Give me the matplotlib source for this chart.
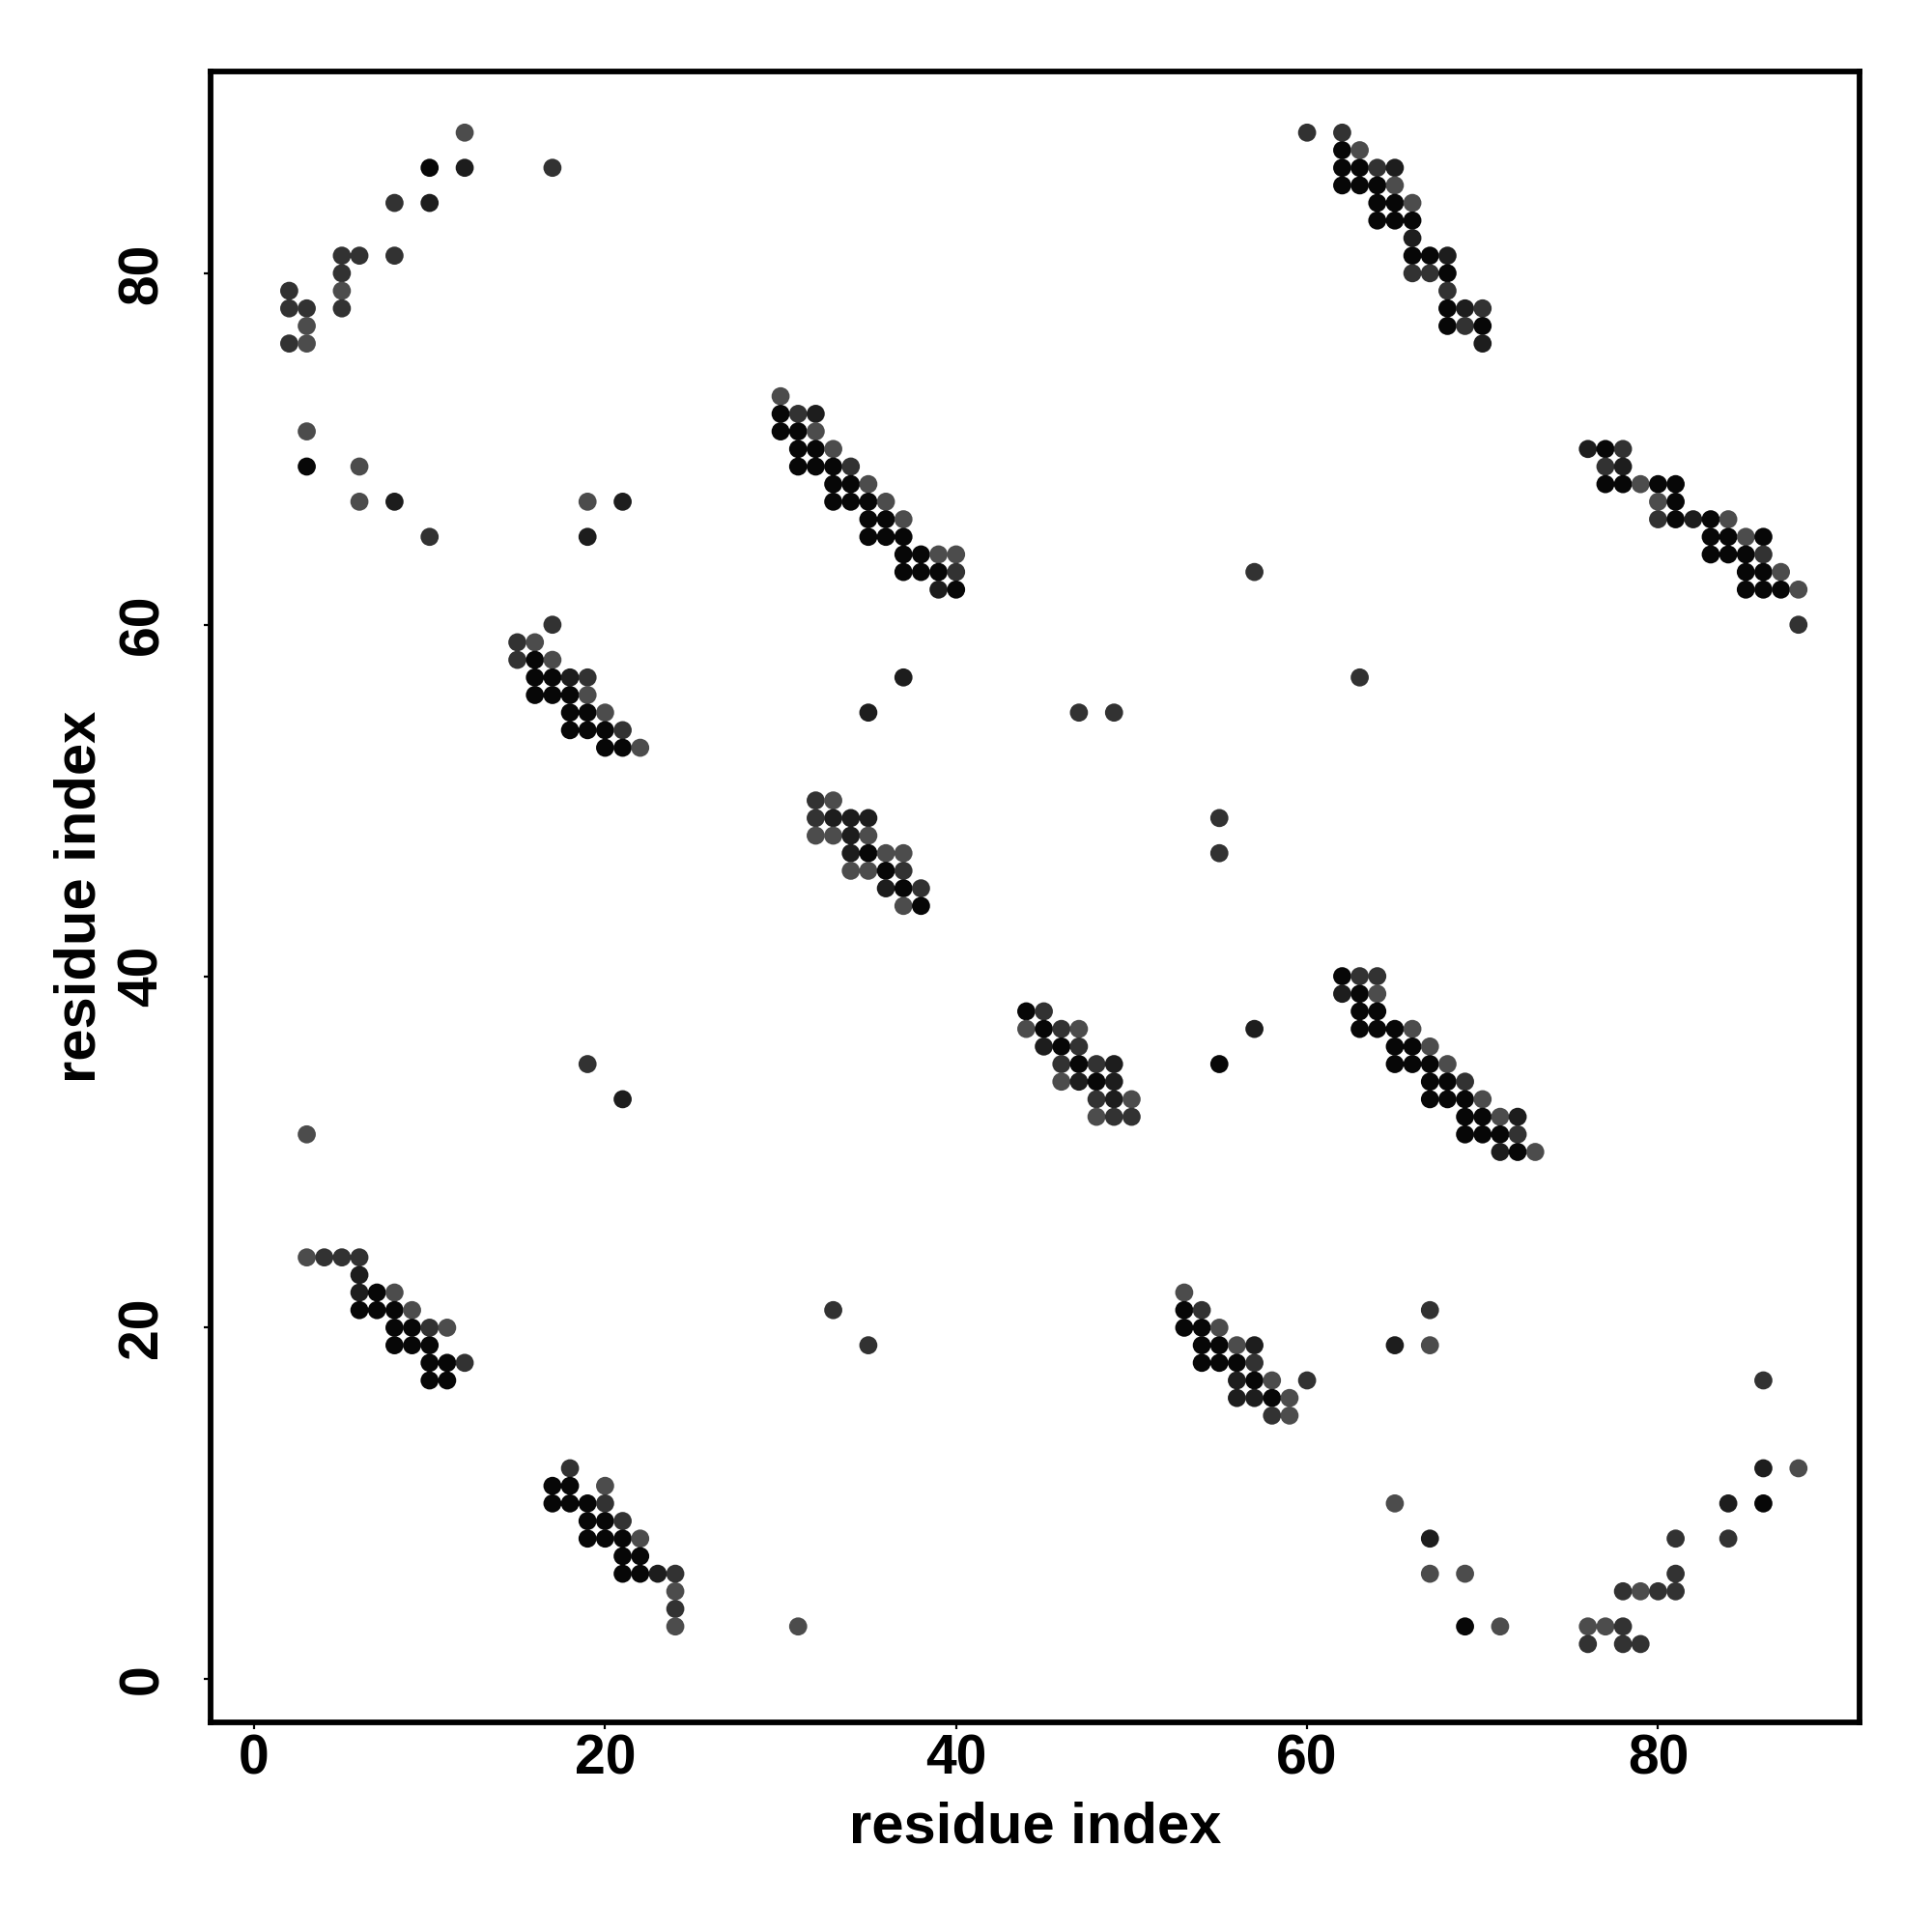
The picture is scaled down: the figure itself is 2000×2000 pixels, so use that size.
import matplotlib
matplotlib.use("Agg")
import matplotlib.pyplot as plt

# ---- data: predicted residue contacts (i, j) and shade level (1=darkest .. 4=lightest)
# upper-left region
a_i = [12, 10, 12, 17, 8, 10, 5, 6, 8, 5, 5, 5, 2, 2, 3, 3, 2, 3,
       3, 3, 6, 6, 8, 10, 19, 21, 19, 17, 15, 16, 15, 16, 17]
a_j = [88, 86, 86, 86, 84, 84, 81, 81, 81, 80, 79, 78, 79, 78, 78, 77, 76, 76,
       71, 69, 69, 67, 67, 65, 67, 67, 65, 60, 59, 59, 58, 58, 58]
a_s = [4, 1, 2, 3, 3, 2, 3, 3, 3, 3, 4, 3, 3, 3, 3, 4, 3, 4,
       4, 1, 4, 4, 2, 3, 4, 2, 2, 3, 3, 4, 3, 1, 4]

b_i = [16, 17, 18, 19, 16, 17, 18, 19, 18, 19, 20, 18, 19, 20, 21, 20, 21, 22, 19, 21, 3]
b_j = [57, 57, 57, 57, 56, 56, 56, 56, 55, 55, 55, 54, 54, 54, 54, 53, 53, 53, 35, 33, 31]
b_s = [1, 1, 2, 3, 1, 1, 1, 4, 1, 1, 4, 1, 1, 1, 3, 1, 1, 4, 3, 2, 4]

# lower-left region
c_i = [3, 4, 5, 6, 6, 6, 7, 8, 6, 7, 8, 9, 8, 9, 10, 11, 8, 9, 10, 10, 11, 12, 10, 11,
       18, 17, 18, 20, 17, 18, 19, 20, 19, 20, 21, 19, 20, 21, 22, 21, 22, 21, 22, 23, 24, 24, 24, 24]
c_j = [24, 24, 24, 24, 23, 22, 22, 22, 21, 21, 21, 21, 20, 20, 20, 20, 19, 19, 19, 18, 18, 18, 17, 17,
       12, 11, 11, 11, 10, 10, 10, 10, 9, 9, 9, 8, 8, 8, 8, 7, 7, 6, 6, 6, 6, 5, 4, 3]
c_s = [4, 3, 3, 3, 2, 2, 1, 4, 1, 1, 1, 4, 1, 1, 3, 4, 1, 1, 1, 1, 1, 3, 1, 1,
       3, 1, 1, 4, 1, 1, 1, 3, 1, 1, 3, 1, 1, 1, 4, 1, 1, 1, 1, 2, 3, 4, 3, 4]

# upper-middle region
d_i = [60, 30, 30, 31, 32, 30, 31, 32, 31, 32, 33, 31, 32, 33, 34, 33, 34, 35,
       33, 34, 35, 36, 35, 36, 37, 35, 36, 37, 37, 38, 39, 40, 37, 38, 39, 40, 57, 39, 40]
d_j = [88, 73, 72, 72, 72, 71, 71, 71, 70, 70, 70, 69, 69, 69, 69, 68, 68, 68,
       67, 67, 67, 67, 66, 66, 66, 65, 65, 65, 64, 64, 64, 64, 63, 63, 63, 63, 63, 62, 62]
d_s = [3, 4, 1, 3, 2, 1, 1, 4, 1, 1, 4, 1, 1, 1, 3, 1, 1, 4,
       1, 1, 1, 4, 1, 1, 4, 1, 1, 1, 1, 1, 4, 4, 1, 1, 1, 3, 3, 2, 1]

# upper-right region
e_i = [62, 62, 63, 62, 63, 64, 65, 62, 63, 64, 65, 64, 65, 66, 64, 65, 66, 66,
       66, 67, 68, 66, 67, 68, 68, 68, 69, 70, 68, 69, 70, 70]
e_j = [88, 87, 87, 86, 86, 86, 86, 85, 85, 85, 85, 84, 84, 84, 83, 83, 83, 82,
       81, 81, 81, 80, 80, 80, 79, 78, 78, 78, 77, 77, 77, 76]
e_s = [3, 1, 4, 1, 1, 3, 2, 1, 1, 1, 4, 1, 1, 4, 1, 1, 1, 2,
       1, 1, 2, 3, 3, 1, 3, 1, 2, 3, 1, 3, 1, 2]

f_i = [76, 77, 78, 77, 78, 77, 78, 79, 80, 81, 80, 81, 80, 81, 82, 83, 84,
       83, 84, 85, 86, 83, 84, 85, 86, 85, 86, 87, 85, 86, 87, 88, 88]
f_j = [70, 70, 70, 69, 69, 68, 68, 68, 68, 68, 67, 67, 66, 66, 66, 66, 66,
       65, 65, 65, 65, 64, 64, 64, 64, 63, 63, 63, 62, 62, 62, 62, 60]
f_s = [2, 1, 3, 3, 2, 1, 1, 4, 1, 1, 4, 1, 3, 1, 2, 1, 4,
       1, 1, 4, 1, 1, 1, 1, 3, 1, 1, 4, 1, 1, 1, 4, 3]

# centre region
g_i = [37, 35, 47, 49, 32, 33, 32, 33, 34, 35, 32, 33, 34, 35, 34, 35, 36, 37,
       34, 35, 36, 37, 36, 37, 38, 37, 38, 55, 55,
       44, 45, 44, 45, 46, 47, 45, 46, 47, 46, 47, 48, 49, 46, 47, 48, 49,
       48, 49, 50, 48, 49, 50, 57, 55]
g_j = [57, 55, 55, 55, 50, 50, 49, 49, 49, 49, 48, 48, 48, 48, 47, 47, 47, 47,
       46, 46, 46, 46, 45, 45, 45, 44, 44, 49, 47,
       38, 38, 37, 37, 37, 37, 36, 36, 36, 35, 35, 35, 35, 34, 34, 34, 34,
       33, 33, 33, 32, 32, 32, 37, 35]
g_s = [2, 2, 3, 3, 3, 4, 3, 2, 2, 2, 4, 4, 2, 4, 2, 1, 4, 4,
       4, 4, 1, 3, 2, 1, 3, 4, 1, 3, 3,
       1, 3, 4, 1, 3, 4, 2, 1, 3, 3, 1, 3, 2, 4, 2, 1, 2,
       3, 2, 4, 4, 3, 3, 2, 1]

# middle-right region
h_i = [63, 62, 63, 64, 62, 63, 64, 63, 64, 63, 64, 65, 66, 65, 66, 67, 65, 66, 67, 68,
       67, 68, 69, 67, 68, 69, 70, 69, 70, 71, 72, 69, 70, 71, 72, 71, 72, 73]
h_j = [57, 40, 40, 40, 39, 39, 39, 38, 38, 37, 37, 37, 37, 36, 36, 36, 35, 35, 35, 35,
       34, 34, 34, 33, 33, 33, 33, 32, 32, 32, 32, 31, 31, 31, 31, 30, 30, 30]
h_s = [3, 1, 3, 3, 2, 1, 4, 1, 1, 1, 1, 1, 4, 1, 1, 4, 1, 1, 1, 4,
       1, 1, 3, 1, 1, 1, 4, 1, 1, 4, 2, 1, 1, 1, 3, 2, 1, 4]

# lower-middle region
k_i = [33, 35, 31, 53, 53, 54, 53, 54, 55, 54, 55, 56, 57, 54, 55, 56, 57,
       56, 57, 58, 60, 56, 57, 58, 59, 58, 59]
k_j = [21, 19, 3, 22, 21, 21, 20, 20, 20, 19, 19, 19, 19, 18, 18, 18, 18,
       17, 17, 17, 17, 16, 16, 16, 16, 15, 15]
k_s = [3, 3, 4, 4, 1, 3, 1, 1, 4, 1, 1, 4, 2, 1, 1, 1, 3,
       2, 1, 4, 3, 2, 2, 1, 4, 3, 4]

# lower-right region
m_i = [67, 65, 67, 86, 86, 88, 65, 84, 86, 67, 81, 84, 67, 69, 81,
       78, 79, 80, 81, 69, 71, 76, 77, 78, 76, 78, 79]
m_j = [21, 19, 19, 17, 12, 12, 10, 10, 10, 8, 8, 8, 6, 6, 6,
       5, 5, 5, 5, 3, 3, 3, 3, 3, 2, 2, 2]
m_s = [3, 2, 4, 3, 2, 4, 4, 2, 1, 2, 3, 3, 4, 4, 3,
       3, 4, 3, 3, 1, 4, 4, 4, 3, 3, 3, 3]

grey_levels = {1: "#070707", 2: "#1d1d1d", 3: "#323232", 4: "#4c4c4c"}
axis_ticks = [0, 20, 40, 60, 80]
axis_label = "residue index"

xs = a_i + b_i + c_i + d_i + e_i + f_i + g_i + h_i + k_i + m_i
ys = a_j + b_j + c_j + d_j + e_j + f_j + g_j + h_j + k_j + m_j
ss = a_s + b_s + c_s + d_s + e_s + f_s + g_s + h_s + k_s + m_s
assert len(xs) == len(ys) == len(ss)
cols = [grey_levels[s] for s in ss]

plt.rcParams["font.family"] = ["Liberation Sans", "DejaVu Sans"]
plt.rcParams["font.weight"] = "bold"

fig = plt.figure(figsize=(20, 20), dpi=100)
ax = fig.add_axes([0.109, 0.1083, 0.8535, 0.8547])
ax.scatter(xs, ys, s=182, c=cols, linewidths=0, zorder=3)

lo, hi = 1, 88
pad = (hi - lo) * 0.04
ax.set_xlim(lo - pad, hi + pad)
ax.set_ylim(lo - pad, hi + pad)

for sp in ax.spines.values():
    sp.set_linewidth(4.2)
ax.set_xticks(axis_ticks)
ax.set_yticks(axis_ticks)
ax.set_xticklabels([str(t) for t in axis_ticks], fontsize=41, fontweight="bold")
ax.set_yticklabels([str(t) for t in axis_ticks], fontsize=41, fontweight="bold",
                   rotation=90, va="center")
ax.tick_params(axis="both", direction="out", length=5, width=1.6)
ax.tick_params(axis="x", pad=3)
ax.tick_params(axis="y", pad=26)

fig.text(0.5357, 0.054, axis_label, ha="center", va="center",
         fontsize=43, fontweight="bold")
fig.text(0.0415, 0.536, axis_label, ha="center", va="center", rotation=90,
         fontsize=43, fontweight="bold")

fig.savefig("out.png", dpi=100, facecolor="white")
